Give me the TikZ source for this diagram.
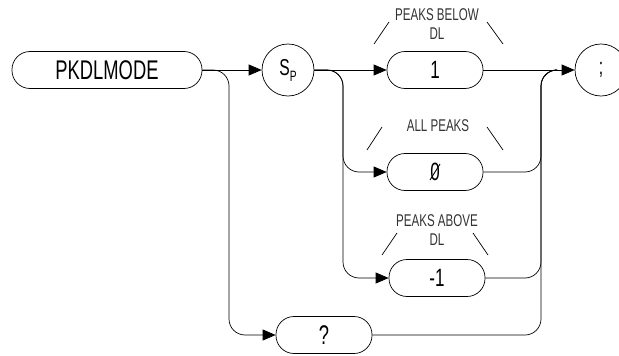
\documentclass[tikz,border=0pt]{standalone}
\usepackage{fontspec}
\newfontfamily\dg[FakeStretch=0.68]{Liberation Sans}
\usetikzlibrary{arrows.meta}
\begin{document}
\begin{tikzpicture}[x=1pt,y=-1pt, line width=0.7pt,
  term/.style={draw, rounded corners=18pt, minimum width=96pt, minimum height=37pt, inner sep=0pt, font=\dg\fontsize{25}{25}\selectfont},
  circ/.style={draw, circle, minimum size=52pt, inner sep=0pt, font=\dg\fontsize{23}{23}\selectfont},
  lbl/.style={font=\dg\fontsize{17}{19}\selectfont, align=center, inner sep=0pt, text=black!80},
  arr/.style={-{Triangle[length=13pt,width=11pt]}},
  conn/.style={arr, rounded corners=16pt}
]
\useasboundingbox (0,0) rectangle (619,356);
\node[term, minimum width=190pt, font=\dg\fontsize{27}{27}\selectfont] (pk) at (107,70) {PKDLMODE};
\node[circ] (sp) at (288,70) {S\raisebox{-6pt}{\fontsize{15}{15}\selectfont P}};
\node[term] (one) at (435,70) {1};
\node[term] (zero) at (435,172) {0};
\node[term] (m1) at (437,278) {-1};
\node[term, font=\dg\fontsize{27}{27}\selectfont] (q) at (324,335) {?};
\node[circ] (semi) at (601,70) {;};

\coordinate (b1) at (229,0);
\coordinate (b2) at (343,0);
\coordinate (r) at (541,0);

\draw[arr] (pk) -- (sp);
\draw[arr] (sp) -- (one);
\draw[arr] (one) -- (semi);
\draw[conn] (pk.east) -| (b1 |- q.west) -- (q.west);
\draw[conn] (sp.east) -| (b2 |- zero.west) -- (zero.west);
\draw[conn] (sp.east) -| (b2 |- m1.west) -- (m1.west);
\draw[rounded corners=16pt] (zero.east) -| (r |- one.east) -- ++(14,0);
\draw[rounded corners=16pt] (m1.east) -| (r |- one.east) -- ++(14,0);
\draw[rounded corners=16pt] (q.east) -| (r |- one.east) -- ++(14,0);

% slash of the zero glyph
\draw[line width=0.9pt] ([shift={(-5,8)}]zero.center) -- ([shift={(5,-8)}]zero.center);

\node[lbl] (l1) at (437,24) {PEAKS BELOW\\DL};
\draw (374,44) -- (389,22);
\draw (487,22) -- (503,44);
\node[lbl] (l2) at (438,126) {ALL PEAKS};
\draw (367,150) -- (382,127);
\draw (487,127) -- (503,150);
\node[lbl] (l3) at (437,230) {PEAKS ABOVE\\DL};
\draw (382,255) -- (397,233);
\draw (473,233) -- (488,255);
\end{tikzpicture}
\end{document}
